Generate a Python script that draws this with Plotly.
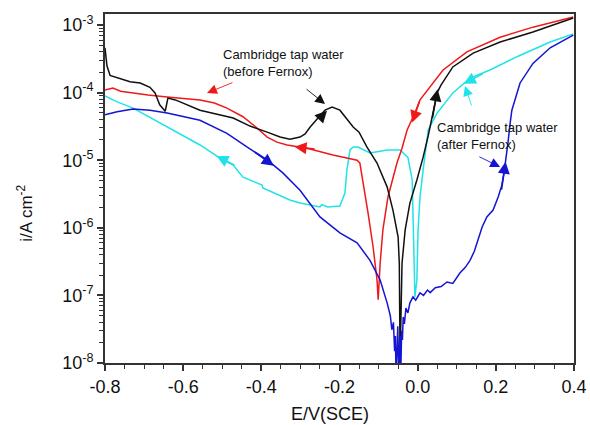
import numpy as np
import plotly.graph_objects as go

# ---------------- data ----------------
black_E = [-0.800, -0.798, -0.795, -0.787, -0.760, -0.736, -0.710, -0.685, -0.672, -0.660, -0.646,
           -0.643, -0.639, -0.620, -0.557, -0.472, -0.429, -0.385, -0.352, -0.327, -0.301, -0.288,
           -0.275, -0.255, -0.237, -0.219, -0.199, -0.165, -0.150, -0.130, -0.104, -0.078, -0.063,
           -0.050, -0.047, -0.045, -0.043, -0.040, -0.032, -0.020, -0.002, 0.014, 0.027, 0.035,
           0.042, 0.050, 0.060, 0.090, 0.142, 0.211, 0.295, 0.398]
black_i = [4.6e-4, 3.3e-4, 2.5e-4, 1.8e-4, 1.6e-4, 1.45e-4, 1.39e-4, 1.2e-4, 9.9e-5, 6.6e-5, 5.3e-5,
           6.8e-5, 8.3e-5, 7.8e-5, 5.5e-5, 4.2e-5, 3.2e-5, 2.6e-5, 2.2e-5, 2.05e-5, 2.2e-5, 2.45e-5,
           3.1e-5, 4.2e-5, 5.5e-5, 6.1e-5, 5.5e-5, 3.1e-5, 2.6e-5, 1.57e-5, 9.1e-6, 4.0e-6, 1.8e-6,
           7.3e-7, 3.0e-7, 1.1e-8, 5e-8, 3.0e-7, 9.3e-7, 2.3e-6, 5.1e-6, 1.11e-5, 2.3e-5, 3.9e-5,
           6.5e-5, 1.0e-4, 1.3e-4, 2.4e-4, 3.85e-4, 5.6e-4, 7.9e-4, 1.27e-3]

red_E = [0.398, 0.295, 0.211, 0.126, 0.065, 0.032, 0.006, -0.007, -0.027, -0.040, -0.053, -0.076,
         -0.089, -0.096, -0.101, -0.104, -0.114, -0.127, -0.140, -0.148, -0.155, -0.217, -0.283,
         -0.301, -0.334, -0.360, -0.385, -0.411, -0.447, -0.488, -0.520, -0.557, -0.600, -0.641,
         -0.690, -0.728, -0.760, -0.780, -0.800]
red_i = [1.31e-3, 9.3e-4, 6.6e-4, 4.0e-4, 2.16e-4, 1.21e-4, 7.8e-5, 5.0e-5, 2.8e-5, 1.5e-5, 9.1e-6,
         2.86e-6, 9.3e-7, 3.0e-7, 8.6e-8, 1.69e-7, 5.2e-7, 1.66e-6, 5.1e-6, 9.1e-6, 1.0e-5, 1.19e-5,
         1.5e-5, 1.57e-5, 1.68e-5, 1.85e-5, 2.2e-5, 3.0e-5, 4.4e-5, 5.9e-5, 7.0e-5, 7.8e-5, 8.3e-5,
         8.6e-5, 9.2e-5, 9.9e-5, 1.05e-4, 1.17e-4, 1.09e-4]

cyan_E = [0.398, 0.339, 0.254, 0.185, 0.134, 0.090, 0.050, 0.027, 0.014, 0.006, 0.001, -0.002,
          -0.007, -0.009, -0.012, -0.014, -0.025, -0.045, -0.078, -0.122, -0.153, -0.165, -0.173,
          -0.181, -0.186, -0.199, -0.230, -0.245, -0.250, -0.301, -0.327, -0.370, -0.396, -0.398,
          -0.447, -0.472, -0.498, -0.557, -0.641, -0.728, -0.769, -0.800]
cyan_i = [7.4e-4, 5.6e-4, 3.4e-4, 2.16e-4, 1.64e-4, 9.9e-5, 5.0e-5, 2.8e-5, 7.2e-6, 2.86e-6, 9.3e-7,
          1.69e-7, 9.5e-8, 3.0e-7, 9.3e-7, 5.1e-6, 1.1e-5, 1.42e-5, 1.42e-5, 1.28e-5, 1.57e-5, 1.57e-5,
          1.42e-5, 7.2e-6, 3.3e-6, 2.1e-6, 2.03e-6, 2.2e-6, 2.03e-6, 2.33e-6, 2.58e-6, 3.3e-6, 3.9e-6,
          4.3e-6, 5.6e-6, 8.5e-6, 1.0e-5, 1.68e-5, 3.1e-5, 5.9e-5, 7.3e-5, 8.9e-5]

blue_E = [-0.800, -0.769, -0.728, -0.685, -0.641, -0.557, -0.488, -0.437, -0.385, -0.345, -0.301,
          -0.250, -0.199, -0.155, -0.122, -0.096, -0.078, -0.070, -0.066, -0.062, -0.059, -0.057,
          -0.055, -0.053, -0.051, -0.049, -0.047, -0.045, -0.043, -0.041, -0.039, -0.037, -0.034,
          -0.030, -0.025, -0.020, -0.012, -0.005, 0.006, 0.015, 0.025, 0.032, 0.045, 0.060, 0.075,
          0.090, 0.108, 0.122, 0.134, 0.145, 0.152, 0.165, 0.177, 0.193, 0.206, 0.215, 0.221, 0.226,
          0.231, 0.236, 0.241, 0.262, 0.295, 0.339, 0.398]
blue_i = [4.7e-5, 5.2e-5, 5.7e-5, 5.5e-5, 5.0e-5, 3.9e-5, 2.5e-5, 1.57e-5, 1.01e-5, 6.5e-6, 3.6e-6,
          1.45e-6, 8.4e-7, 6.0e-7, 3.3e-7, 1.69e-7, 7.7e-8, 5.0e-8, 3.1e-8, 4.0e-8, 1.5e-8, 2.5e-8,
          5e-9, 2.0e-8, 3.5e-8, 1.2e-8, 5e-9, 2.5e-8, 8e-9, 3.0e-8, 2.2e-8, 4.8e-8, 3.8e-8, 6.5e-8,
          5.5e-8, 7.7e-8, 9.5e-8, 8.5e-8, 1.09e-7, 1.0e-7, 1.2e-7, 1.1e-7, 1.3e-7, 1.35e-7, 1.58e-7,
          1.5e-7, 2.14e-7, 2.6e-7, 3.3e-7, 4.5e-7, 6.0e-7, 1.03e-6, 1.45e-6, 1.83e-6, 2.86e-6, 4.2e-6,
          6.5e-6, 1.0e-5, 1.8e-5, 3.3e-5, 5.5e-5, 1.39e-4, 2.7e-4, 4.6e-4, 7.1e-4]

x_tick_vals = [-0.8, -0.6, -0.4, -0.2, 0.0, 0.2, 0.4]
x_tick_text = ["-0.8", "-0.6", "-0.4", "-0.2", "0.0", "0.2", "0.4"]
y_tick_vals = [1e-8, 1e-7, 1e-6, 1e-5, 1e-4, 1e-3]
y_tick_text = ["10<sup>-8</sup>", "10<sup>-7</sup>", "10<sup>-6</sup>", "10<sup>-5</sup>",
               "10<sup>-4</sup>", "10<sup>-3</sup>"]

# direction arrows on the curves: (tail E, tail i, tip E, tip i)
black_arrows = [(0.037, 4.0e-5, 0.051, 1.12e-4), (-0.255, 3.9e-5, -0.232, 5.4e-5)]
red_arrows = [(0.006, 7.8e-5, -0.014, 3.6e-5), (-0.260, 1.45e-5, -0.315, 1.58e-5)]
cyan_arrows = [(0.170, 1.95e-4, 0.118, 1.35e-4), (-0.465, 8.3e-6, -0.515, 1.15e-5)]
blue_arrows = [(-0.420, 1.35e-5, -0.368, 8.3e-6), (0.214, 3.5e-6, 0.225, 9.5e-6)]

RED, BLACK, CYAN, BLUE = "#f01818", "#111111", "#1ee3e8", "#1414d2"
FONT = "Liberation Sans, Arial, sans-serif"
AX = "#333333"

# minor tick positions on the log axis (axis decoration)
y_minor_vals = [k * 10.0 ** d for d in range(-8, -2) for k in range(2, 10) if k * 10.0 ** d < 1.4e-3]

fig = go.Figure()
for E, I, c in [(cyan_E, cyan_i, CYAN), (red_E, red_i, RED), (black_E, black_i, BLACK),
                (blue_E, blue_i, BLUE)]:
    fig.add_trace(go.Scatter(x=E, y=I, mode="lines", line=dict(color=c, width=1.5),
                             showlegend=False, hoverinfo="skip"))

for arrows, c in [(black_arrows, BLACK), (red_arrows, RED), (cyan_arrows, CYAN), (blue_arrows, BLUE)]:
    for te, ti, he, hi in arrows:
        fig.add_annotation(x=he, y=np.log10(hi), ax=te, ay=np.log10(ti), xref="x", yref="y",
                           axref="x", ayref="y", text="", showarrow=True, arrowhead=2,
                           arrowsize=1.5, arrowwidth=1.6, arrowcolor=c)

# labels
fig.add_annotation(x=-0.503, y=-3.562, xref="x", yref="y", xanchor="left", yanchor="middle",
                   align="left", showarrow=False,
                   text="Cambridge tap water<br>(before Fernox)",
                   font=dict(family=FONT, size=13, color="#111"))
fig.add_annotation(x=0.044, y=-4.649, xref="x", yref="y", xanchor="left", yanchor="middle",
                   align="left", showarrow=False,
                   text="Cambridge tap water<br>(after Fernox)",
                   font=dict(family=FONT, size=13, color="#111"))
# pointer arrows
for te, tl, he, hl, c in [(-0.470, -3.843, -0.539, -4.006, RED), (-0.288, -3.932, -0.237, -4.169, BLACK),
                          (0.139, -4.213, 0.121, -3.902, CYAN), (0.154, -4.938, 0.211, -5.101, BLUE)]:
    fig.add_annotation(x=he, y=hl, ax=te, ay=tl, xref="x", yref="y", axref="x", ayref="y",
                       text="", showarrow=True, arrowhead=2, arrowsize=2.2, arrowwidth=0.9,
                       arrowcolor=c)

# axis titles
fig.add_annotation(x=(330 - 105) / 469, y=-0.145, xref="paper", yref="paper", showarrow=False,
                   text="E/V(SCE)", font=dict(family=FONT, size=18, color="#111"),
                   xanchor="center", yanchor="middle")
fig.add_annotation(x=-0.171, y=0.43, xref="paper", yref="paper", showarrow=False,
                   text="i/A cm<sup>-2</sup>", textangle=-90,
                   font=dict(family=FONT, size=17, color="#111"),
                   xanchor="center", yanchor="middle")

xr = [-0.8, 0.4]
yr = [-8, -2.837]

fig.update_layout(
    width=590, height=425,
    margin=dict(l=105, r=16, t=14, b=62, autoexpand=False),
    paper_bgcolor="white", plot_bgcolor="white",
    font=dict(family=FONT, size=18, color="#111"),
    xaxis=dict(range=xr, showgrid=False, zeroline=False, showline=True, linecolor=AX,
               linewidth=2, mirror=True, ticks="outside", ticklen=6, tickwidth=1.5,
               tickcolor=AX, tickmode="array", tickvals=x_tick_vals, ticktext=x_tick_text,
               tickfont=dict(family=FONT, size=18, color="#111"),
               minor=dict(ticks="outside", tickmode="linear", tick0=-0.8, dtick=0.05,
                          ticklen=4, tickwidth=1.2, tickcolor=AX)),
    yaxis=dict(type="log", range=yr, showgrid=False, zeroline=False, showline=True,
               linecolor=AX, linewidth=2, mirror=True, ticks="outside", ticklen=6,
               tickwidth=1.5, tickcolor=AX, tickmode="array", tickvals=y_tick_vals,
               ticktext=y_tick_text, tickfont=dict(family=FONT, size=18, color="#111"),
               minor=dict(ticks="outside", tickmode="array", tickvals=y_minor_vals,
                          ticklen=4, tickwidth=1.2, tickcolor=AX)),
)

fig.write_html("out.html", config={"displayModeBar": False},
               post_script="document.body.style.margin='0';document.body.style.overflow='hidden';")
